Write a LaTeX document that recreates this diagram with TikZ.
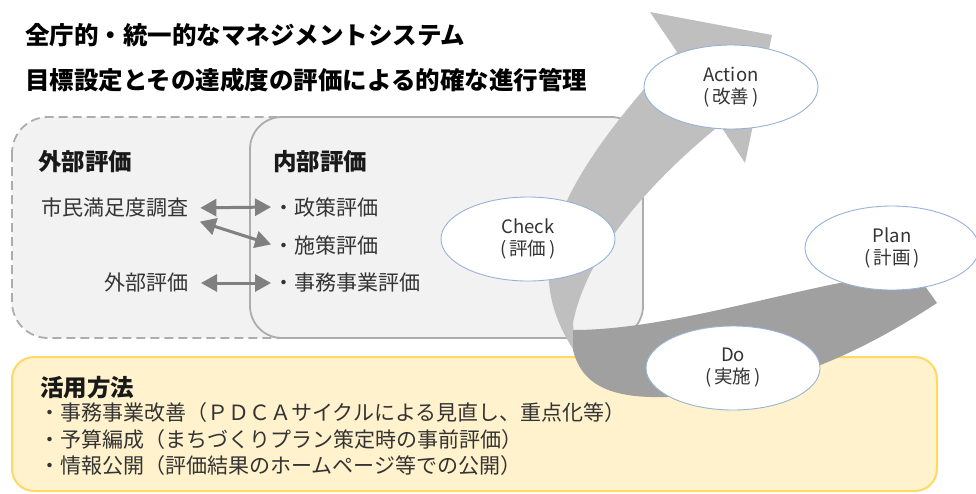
\documentclass[tikz,border=0pt]{standalone}
\usepackage{fontspec}
\setmainfont{Noto Sans CJK JP}
\usepackage{xcolor}
\usepackage{tikz}
\usetikzlibrary{
	arrows.meta,shapes
}
\definecolor{boxfill}{HTML}{F2F2F2}
\definecolor{boxline}{HTML}{ADADAD}
\definecolor{yelfill}{HTML}{FFF2CC}
\definecolor{yelline}{HTML}{FFD966}
\definecolor{bandlight}{HTML}{BFBFBF}
\definecolor{banddark}{HTML}{A0A0A0}
\definecolor{ellblue}{HTML}{95B3D7}
\definecolor{arrgray}{HTML}{808080}
\definecolor{txtdark}{HTML}{333333}

\begin{document}
\begin{tikzpicture}[x=1pt,y=-1pt,
	ttl/.style={anchor=west,inner sep=0pt,text=black,font=\fontsize{24.5}{28}\selectfont\bfseries},
	hdr/.style={anchor=west,inner sep=0pt,text=black!90,font=\fontsize{23.5}{28}\selectfont\bfseries},
	lbl/.style={inner sep=0pt,text=txtdark,font=\fontsize{21}{25}\selectfont},
	pdca/.style={ellipse,draw=ellblue,line width=0.9pt,fill=white,minimum width=174pt,minimum height=84pt,inner sep=0pt,align=center,text=txtdark,font=\fontsize{18.5}{22}\selectfont}]
	\useasboundingbox (0,0) rectangle (976,493);
	%
	%  BOXES
	%
	\draw[draw=boxline,fill=boxfill,line width=1.8pt,dash pattern=on 9pt off 5pt,rounded corners=36pt] (12,117) rectangle (420,338);
	\draw[draw=boxline,fill=boxfill,line width=1.8pt,rounded corners=32pt] (250,117) rectangle (643,338);
	\draw[draw=yelline,fill=yelfill,line width=2pt,rounded corners=22pt] (12,357) rectangle (937,491);
	%
	%  CYCLE
	%
	\fill[bandlight] (575,352) .. controls (520,270) and (550,190) .. (677,52) -- (650,12) -- (772,35) -- (745,163) -- (720,125) .. controls (640,190) and (585,260) .. (573,323) -- cycle;
	\fill[banddark] (915,272) .. controls (820,278) and (680,330) .. (573,330) -- (573,350) .. controls (585,400) and (640,400) .. (700,395) .. controls (800,385) and (880,340) .. (937,303) -- cycle;
	%
	\node[ttl] (T1) at (25,35) {全庁的・統一的なマネジメントシステム};
	\node[ttl] (T2) at (25,80) {目標設定とその達成度の評価による的確な進行管理};
	\node[hdr] (OH) at (38,162) {外部評価};
	\node[hdr] (IH) at (273,162) {内部評価};
	\node[lbl,anchor=west] (CS) at (41,208) {市民満足度調査};
	\node[lbl,anchor=east] (OE) at (189,283) {外部評価};
	\node[lbl,anchor=west] (P1) at (273,207) {・政策評価};
	\node[lbl,anchor=west] (P2) at (273,245) {・施策評価};
	\node[lbl,anchor=west] (P3) at (273,283) {・事務事業評価};
	\node[hdr] (UH) at (40,388) {活用方法};
	\node[lbl,anchor=west] (U1) at (39,413) {・事務事業改善（ＰＤＣＡサイクルによる見直し、重点化等）};
	\node[lbl,anchor=west] (U2) at (39,440) {・予算編成（まちづくりプラン策定時の事前評価）};
	\node[lbl,anchor=west] (U3) at (39,466) {・情報公開（評価結果のホームページ等での公開）};
	%
	%  PDCA
	%
	\node[pdca] (ACT) at (731,87) {Action\\(\,改善\,)};
	\node[pdca] (CHK) at (528,239) {Check\\(\,評価\,)};
	\node[pdca] (PLN) at (892,248) {Plan\\(\,計画\,)};
	\node[pdca] (DO) at (733,368) {Do\\(\,実施\,)};
	%
	\path[{Triangle[length=16pt,width=17pt]}-{Triangle[length=16pt,width=17pt]},color=arrgray,line width=3pt,shorten <=12pt,shorten >=2pt]
	(CS.east) edge (P1.west)
	(CS.south east) edge (P2.west)
	(OE.east) edge (P3.west);
\end{tikzpicture}
\end{document}
